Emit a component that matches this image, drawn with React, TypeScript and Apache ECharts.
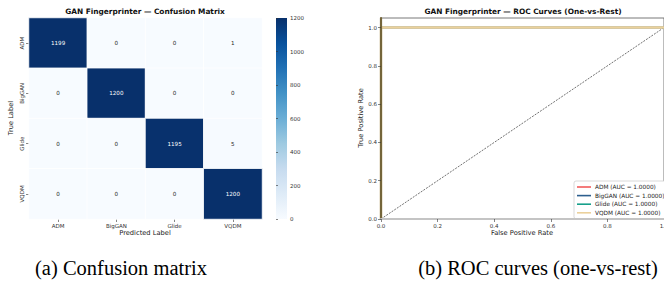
import React, { useEffect, useRef } from "react";
import * as echarts from "echarts";

const classes = ["ADM", "BigGAN", "Glide", "VQDM"];
const cmRowADM = [1199, 0, 0, 1];
const cmRowBigGAN = [0, 1200, 0, 0];
const cmRowGlide = [0, 0, 1195, 5];
const cmRowVQDM = [0, 0, 0, 1200];
const colorbarTicks = [0, 200, 400, 600, 800, 1000, 1200];

const admFpr = [0, 0, 1];
const admTpr = [0, 1, 1];
const bigganFpr = [0, 0, 1];
const bigganTpr = [0, 1, 1];
const glideFpr = [0, 0, 1];
const glideTpr = [0, 1, 1];
const vqdmFpr = [0, 0, 1];
const vqdmTpr = [0, 1, 1];
const aucValues = [1.0, 1.0, 1.0, 1.0];
const chanceLine = [0, 1];
const rocTicks = [0, 0.2, 0.4, 0.6, 0.8, 1.0];

const blues = ["#f7fbff", "#deebf7", "#c6dbef", "#9ecae1", "#6baed6", "#4292c6", "#2171b5", "#08519c", "#08306b"];
const rocColors = ["#f25c5c", "#2d5f8e", "#17a08b", "#ebd19c"];
const rocWidths = [1.4, 1.4, 1.4, 2.4];
const FONT = "DejaVu Sans";

export default function App() {
  const ref = useRef<HTMLDivElement>(null);
  useEffect(() => {
    if (!ref.current) return;
    const chart = echarts.init(ref.current, null, { renderer: "svg" });
    const matrix = [cmRowADM, cmRowBigGAN, cmRowGlide, cmRowVQDM];
    const heatData: any[] = [];
    matrix.forEach((row, r) =>
      row.forEach((v, c) =>
        heatData.push({ value: [c, r, v], label: { color: v > 600 ? "#ffffff" : "#262626" } })
      )
    );
    const pts = (xs: number[], ys: number[]) => xs.map((x, i) => [x, ys[i]]);
    const rocData = [
      pts(admFpr, admTpr),
      pts(bigganFpr, bigganTpr),
      pts(glideFpr, glideTpr),
      pts(vqdmFpr, vqdmTpr),
    ];
    const names = classes.map((c, i) => `${c} (AUC = ${aucValues[i].toFixed(4)})`);
    const tickLabel = { fontFamily: FONT, fontSize: 5.5, color: "#333" };
    const nameStyle = { fontFamily: FONT, fontSize: 6.7, fill: "#222", align: "center", verticalAlign: "middle" };

    chart.setOption({
      animation: false,
      textStyle: { fontFamily: FONT },
      grid: [
        { left: 29, top: 18, width: 233, height: 201, outerBoundsMode: "none", containLabel: false },
        { left: 276, top: 18, width: 11, height: 201, outerBoundsMode: "none", containLabel: false },
        { left: 381, top: 18, width: 283, height: 201, outerBoundsMode: "none", containLabel: false, show: true, borderColor: "#555", borderWidth: 0.8, backgroundColor: "transparent" },
      ],
      xAxis: [
        {
          type: "category", gridIndex: 0, data: classes,
          axisLine: { show: false },
          axisTick: { show: true, alignWithLabel: true, length: 3, lineStyle: { color: "#333", width: 0.6 } },
          axisLabel: { ...tickLabel, margin: 4 },
          splitLine: { show: false },
        },
        { type: "value", gridIndex: 1, show: false, min: 0, max: 1 },
        {
          type: "value", gridIndex: 2, min: 0, max: 1, interval: 0.2, z: 10,
          axisLine: { show: true, lineStyle: { color: "#c4c4c4", width: 2 } },
          axisTick: { show: true, length: 3, lineStyle: { color: "#333", width: 0.6 } },
          axisLabel: { ...tickLabel, margin: 4, formatter: (v: number) => v.toFixed(1) },
          splitLine: { show: false },
        },
      ],
      yAxis: [
        {
          type: "category", gridIndex: 0, data: classes, inverse: true,
          axisLine: { show: false },
          axisTick: { show: true, alignWithLabel: true, length: 3, lineStyle: { color: "#333", width: 0.6 } },
          axisLabel: { ...tickLabel, rotate: 90, margin: 4 },
          splitLine: { show: false },
        },
        {
          type: "value", gridIndex: 1, min: 0, max: 1200, interval: 200, position: "right",
          axisLine: { show: false },
          axisTick: { show: true, length: 2, lineStyle: { color: "#333", width: 0.6 } },
          axisLabel: { ...tickLabel, margin: 3, customValues: colorbarTicks, formatter: (v: number) => String(v) },
          splitLine: { show: false },
        },
        {
          type: "value", gridIndex: 2, min: 0, max: 1.05, z: 10,
          axisLine: { show: true, lineStyle: { color: "#74653a", width: 2.2 } },
          axisTick: { show: true, length: 3, customValues: rocTicks, lineStyle: { color: "#333", width: 0.6 } },
          axisLabel: { ...tickLabel, margin: 4, customValues: rocTicks, formatter: (v: number) => v.toFixed(1) },
          splitLine: { show: false },
        },
      ],
      visualMap: {
        show: false, type: "continuous", seriesIndex: 0, min: 0, max: 1200,
        inRange: { color: blues },
      },
      legend: {
        data: names, orient: "vertical", left: 574, top: 181,
        itemWidth: 14, itemHeight: 1.6, itemGap: 2.6, icon: "rect",
        padding: [3, 4, 3, 3], borderColor: "#cfcfcf", borderWidth: 0.8, borderRadius: 2,
        backgroundColor: "#ffffff",
        textStyle: { fontFamily: FONT, fontSize: 5.8, color: "#222", padding: [0, 0, 0, -1] },
      },
      series: [
        {
          type: "heatmap", xAxisIndex: 0, yAxisIndex: 0, data: heatData,
          itemStyle: { borderColor: "#ffffff", borderWidth: 0.8 },
          label: { show: true, fontFamily: FONT, fontSize: 5.6 },
          emphasis: { disabled: true },
        },
        {
          type: "line", xAxisIndex: 2, yAxisIndex: 2, name: "chance",
          data: pts(chanceLine, chanceLine), symbol: "none", silent: true,
          lineStyle: { color: "#333", width: 0.7, type: [2, 1.2] },
        },
        ...rocData.map((d, i) => ({
          type: "line", xAxisIndex: 2, yAxisIndex: 2, name: names[i], data: d,
          symbol: "none", color: rocColors[i], z: 2 + i,
          lineStyle: { color: rocColors[i], width: rocWidths[i], opacity: 1 },
        })),
      ],
      graphic: [
        {
          type: "rect", shape: { x: 276, y: 18, width: 11, height: 201 },
          style: {
            fill: new echarts.graphic.LinearGradient(0, 1, 0, 0,
              blues.map((c, i) => ({ offset: i / (blues.length - 1), color: c }))),
          },
          silent: true,
        },
        {
          type: "text", x: 145, y: 11,
          style: { text: "GAN Fingerprinter — Confusion Matrix", fontFamily: FONT, fontWeight: "bold", fontSize: 7.4, fill: "#111", align: "center", verticalAlign: "middle" },
        },
        {
          type: "text", x: 523, y: 11,
          style: { text: "GAN Fingerprinter — ROC Curves (One-vs-Rest)", fontFamily: FONT, fontWeight: "bold", fontSize: 7.4, fill: "#111", align: "center", verticalAlign: "middle" },
        },
        { type: "text", x: 145, y: 233, style: { text: "Predicted Label", ...nameStyle } },
        { type: "text", x: 11, y: 118, rotation: Math.PI / 2, style: { text: "True Label", ...nameStyle } },
        { type: "text", x: 522, y: 233, style: { text: "False Positive Rate", ...nameStyle } },
        { type: "text", x: 361, y: 118, rotation: Math.PI / 2, style: { text: "True Positive Rate", ...nameStyle } },
        {
          type: "text", x: 121, y: 268,
          style: { text: "(a) Confusion matrix", fontFamily: "Liberation Serif", fontSize: 20.5, fill: "#000", align: "center", verticalAlign: "middle" },
        },
        {
          type: "text", x: 538, y: 268,
          style: { text: "(b) ROC curves (one-vs-rest)", fontFamily: "Liberation Serif", fontSize: 20.5, fill: "#000", align: "center", verticalAlign: "middle" },
        },
      ],
    });
    return () => chart.dispose();
  }, []);
  return (
    <div
      ref={ref}
      style={{ position: "absolute", left: 0, top: 0, width: 664, height: 286, background: "#fff" }}
    />
  );
}
